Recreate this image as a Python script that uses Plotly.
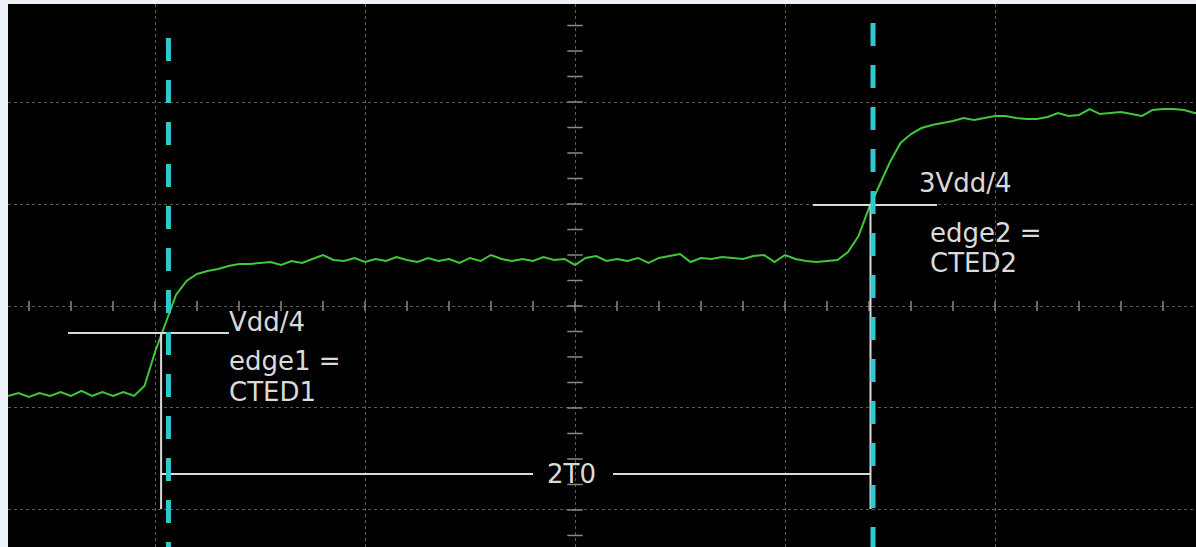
import numpy as np
import plotly.graph_objects as go

# Scope screen in divisions: x = time (div), y = voltage (div)
X_RANGE = [-2.7, 2.957]
Y_RANGE = [-2.363, 2.961]
SAMPLE_STEP = 0.05
SAMPLE_START = -2.7

# Captured channel trace (div), one sample every SAMPLE_STEP
trace_v = [
    -0.882, -0.853, -0.892, -0.853, -0.882, -0.843, -0.882, -0.833, -0.882, -0.843,
    -0.882, -0.843, -0.882, -0.784, -0.451, -0.167, 0.108, 0.245, 0.314, 0.343,
    0.363, 0.392, 0.412, 0.412, 0.422, 0.431, 0.402, 0.441, 0.422, 0.461,
    0.500, 0.451, 0.441, 0.471, 0.431, 0.461, 0.441, 0.480, 0.451, 0.431,
    0.471, 0.441, 0.461, 0.422, 0.471, 0.441, 0.500, 0.461, 0.441, 0.461,
    0.441, 0.480, 0.451, 0.461, 0.402, 0.471, 0.490, 0.441, 0.461, 0.441,
    0.471, 0.422, 0.471, 0.490, 0.510, 0.431, 0.471, 0.461, 0.480, 0.471,
    0.461, 0.490, 0.500, 0.431, 0.500, 0.461, 0.441, 0.431, 0.441, 0.451,
    0.529, 0.686, 0.961, 1.186, 1.412, 1.598, 1.686, 1.745, 1.775, 1.794,
    1.814, 1.843, 1.824, 1.843, 1.863, 1.863, 1.843, 1.833, 1.833, 1.853,
    1.892, 1.863, 1.873, 1.931, 1.882, 1.892, 1.902, 1.882, 1.863, 1.922,
    1.931, 1.931, 1.922, 1.892, 1.900,
]
trace_t = SAMPLE_START + SAMPLE_STEP * np.arange(len(trace_v))

# Threshold levels (Vdd/4, 3Vdd/4) and the edge instants where they are crossed
THRESH_V = [-0.265, 0.990]
EDGE_T = [-1.971, 1.407]
# Cursor positions and where each dashed cursor begins at the top
CURSOR_T = [-1.936, 1.419]
CURSOR_TOP = [2.627, 2.775]
# Measurement bar
MEAS_V = -1.647
MEAS_BOTTOM = -1.990
MEAS_GAP = [-0.200, 0.181]
# Threshold marker extents
THRESH_SPAN = [[-2.414, -1.648], [1.133, 1.724]]

# Labels
labels = ["Vdd/4", "edge1 =", "CTED1", "3Vdd/4", "edge2 =", "CTED2", "2T0"]
label_x = [-1.652, -1.652, -1.652, 1.633, 1.686, 1.686, -0.019]
label_y = [-0.157, -0.539, -0.843, 1.206, 0.716, 0.422, MEAS_V]
label_anchor = ["left", "left", "left", "left", "left", "left", "center"]

GRID = "#5a5a5a"
WHITE = "#dadada"
CYAN = "#30c8cc"
GREEN = "#3fc83a"

fig = go.Figure()

# Minor ticks on the centre graticule lines
htick_x = np.round(np.arange(-2.6, 2.95, 0.2), 3)
vtick_y = np.round(np.arange(-2.25, 2.95, 0.25), 3)
fig.add_trace(go.Scatter(
    x=htick_x, y=np.zeros_like(htick_x), mode="markers", hoverinfo="skip",
    marker=dict(symbol="line-ns", size=7, line=dict(color="#8a8a8a", width=1.5)),
))
fig.add_trace(go.Scatter(
    x=np.zeros_like(vtick_y), y=vtick_y, mode="markers", hoverinfo="skip",
    marker=dict(symbol="line-ew", size=11, line=dict(color="#8a8a8a", width=1.5)),
))

# Signal
fig.add_trace(go.Scatter(
    x=trace_t, y=trace_v, mode="lines",
    line=dict(color=GREEN, width=2),
))

shapes = []
# Threshold markers
for (xa, xb), v in zip(THRESH_SPAN, THRESH_V):
    shapes.append(dict(type="line", x0=xa, x1=xb, y0=v, y1=v,
                       line=dict(color=WHITE, width=2)))
# Vertical drops from each crossing to the measurement bar
for t, v in zip(EDGE_T, THRESH_V):
    shapes.append(dict(type="line", x0=t, x1=t, y0=v, y1=MEAS_BOTTOM,
                       line=dict(color=WHITE, width=2)))
# Measurement bar, broken around its label
shapes.append(dict(type="line", x0=EDGE_T[0], x1=MEAS_GAP[0], y0=MEAS_V, y1=MEAS_V,
                   line=dict(color=WHITE, width=2)))
shapes.append(dict(type="line", x0=MEAS_GAP[1], x1=EDGE_T[1], y0=MEAS_V, y1=MEAS_V,
                   line=dict(color=WHITE, width=2)))
# Dashed cursors
for t, top in zip(CURSOR_T, CURSOR_TOP):
    shapes.append(dict(type="line", x0=t, x1=t, y0=top, y1=Y_RANGE[0] - 0.3,
                       line=dict(color=CYAN, width=5, dash="23px,19px")))

annotations = [
    dict(x=x, y=y, text=s, xanchor=a, yanchor="middle", showarrow=False,
         borderpad=0, font=dict(family="DejaVu Sans", size=26, color=WHITE))
    for s, x, y, a in zip(labels, label_x, label_y, label_anchor)
]

fig.update_layout(
    width=1196, height=547,
    margin=dict(l=8, r=0, t=4, b=0),
    paper_bgcolor="#edf2f8",
    plot_bgcolor="#000000",
    showlegend=False,
    shapes=shapes,
    annotations=annotations,
    xaxis=dict(range=X_RANGE, dtick=1, tick0=0, showgrid=True, gridcolor=GRID,
               gridwidth=1, griddash="dot", zeroline=False, showticklabels=False,
               ticks="", showline=False, fixedrange=True),
    yaxis=dict(range=Y_RANGE, dtick=1, tick0=0, showgrid=True, gridcolor=GRID,
               gridwidth=1, griddash="dot", zeroline=False, showticklabels=False,
               ticks="", showline=False, fixedrange=True),
)

fig.write_html("out.html", config={"displayModeBar": False})
